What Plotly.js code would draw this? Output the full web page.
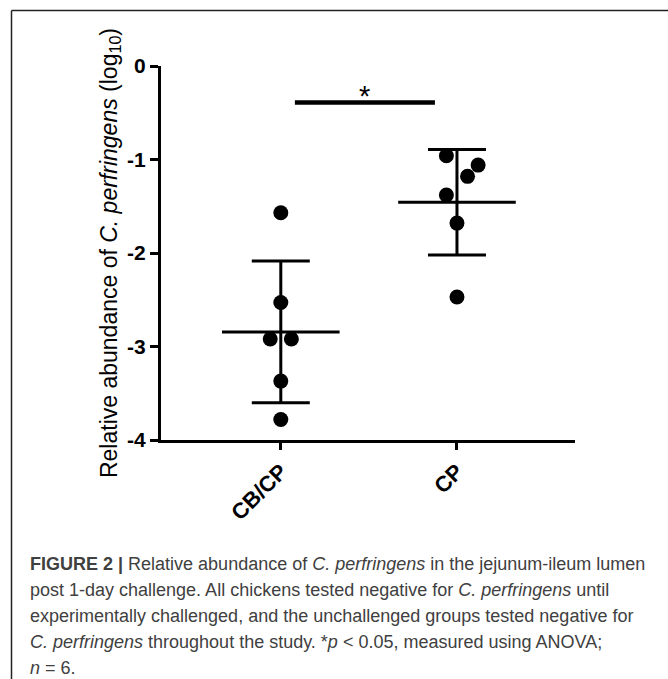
<!DOCTYPE html>
<html>
<head>
<meta charset="utf-8">
<script src="https://cdn.plot.ly/plotly-3.0.1.min.js"></script>
<style>html,body{margin:0;padding:0;background:#fff;}#chart{width:668px;height:679px;}</style>
</head>
<body>
<div id="chart"></div>
<script>
// ---- data ----
const categories = ["CB/CP", "CP"];
const categoryPos = [0, 1];
const cbcpValues = [-1.57, -2.53, -2.92, -2.92, -3.37, -3.78];
const cbcpJitter = [0, 0, -0.06, 0.06, 0, 0];
const cpValues = [-0.96, -1.06, -1.18, -1.38, -1.68, -2.47];
const cpJitter = [-0.06, 0.12, 0.06, -0.06, 0, 0];
const groupMeans = [-2.845, -1.458];
const groupUpper = [-2.085, -0.893];
const groupLower = [-3.601, -2.022];
const yTickVals = [0, -1, -2, -3, -4];
const yTickText = ["0", "-1", "-2", "-3", "-4"];
const sigX = [0.08, 0.875];
const sigY = [-0.39, -0.39];
const sigLabel = "*";
const captionLines = [
  "<b>FIGURE 2 |</b> Relative abundance of <i>C. perfringens</i> in the jejunum-ileum lumen",
  "post 1-day challenge. All chickens tested negative for <i>C. perfringens</i> until",
  "experimentally challenged, and the unchallenged groups tested negative for",
  "<i>C. perfringens</i> throughout the study. *<i>p</i> &lt; 0.05, measured using ANOVA;",
  "<i>n</i> = 6."
];

// ---- layout geometry ----
const W = 668, H = 679;
const M = {l: 161, r: 93, t: 66, b: 239};
const plotW = W - M.l - M.r, plotH = H - M.t - M.b;
const px2x = px => (px - M.l) / plotW;
const px2y = py => 1 - (py - M.t) / plotH;
const captionY = [564, 590, 616, 642, 668];

const font = "Liberation Sans, Arial, Helvetica, sans-serif";

const traces = [
  {
    type: "scatter", mode: "markers",
    x: categoryPos, y: groupMeans,
    marker: {symbol: "line-ew", size: 84, color: "#000", line: {color: "#000", width: 3}},
    error_y: {
      type: "data", symmetric: false,
      array: groupUpper.map((u, i) => u - groupMeans[i]),
      arrayminus: groupLower.map((l, i) => groupMeans[i] - l),
      color: "#000", thickness: 3, width: 29
    },
    hoverinfo: "skip", cliponaxis: false
  },
  {
    type: "scatter", mode: "markers",
    x: cbcpJitter.map(j => categoryPos[0] + j), y: cbcpValues,
    marker: {size: 15, color: "#000"}, cliponaxis: false
  },
  {
    type: "scatter", mode: "markers",
    x: cpJitter.map(j => categoryPos[1] + j), y: cpValues,
    marker: {size: 15, color: "#000"}, cliponaxis: false
  },
  {
    type: "scatter", mode: "lines",
    x: sigX, y: sigY,
    line: {color: "#000", width: 4.5}, hoverinfo: "skip"
  }
];

const annotations = captionLines.map((t, i) => ({
  text: t, xref: "paper", yref: "paper",
  x: px2x(28), y: px2y(captionY[i]), xanchor: "left", yanchor: "middle",
  showarrow: false, align: "left",
  font: {family: font, size: 18, color: "#404040"}
}));
annotations.push({
  text: sigLabel, xref: "x", yref: "y",
  x: (sigX[0] + sigX[1]) / 2, y: sigY[0], xanchor: "center", yanchor: "bottom",
  yshift: -12, showarrow: false,
  font: {family: font, size: 29, color: "#000"}
});

const shapes = [
  {type: "line", xref: "paper", yref: "paper",
   x0: px2x(11.5), x1: px2x(668), y0: px2y(10.5), y1: px2y(10.5),
   line: {color: "#222", width: 1.5}},
  {type: "line", xref: "paper", yref: "paper",
   x0: px2x(11.5), x1: px2x(11.5), y0: px2y(10.5), y1: px2y(679),
   line: {color: "#222", width: 1.5}}
];

const layout = {
  width: W, height: H,
  margin: M,
  paper_bgcolor: "#fff", plot_bgcolor: "#fff",
  showlegend: false,
  font: {family: font, color: "#000"},
  xaxis: {
    range: [-0.68, 1.67], tickvals: categoryPos, ticktext: categories,
    tickangle: -45, ticks: "outside", ticklen: 7, tickwidth: 3, tickcolor: "#000",
    showline: true, linewidth: 3, linecolor: "#000",
    showgrid: false, zeroline: false,
    tickfont: {family: font, size: 22, color: "#000", weight: 700}
  },
  yaxis: {
    range: [-4, 0], tickvals: yTickVals, ticktext: yTickText,
    ticks: "outside", ticklen: 8, tickwidth: 3, tickcolor: "#000",
    showline: true, linewidth: 3, linecolor: "#000",
    showgrid: false, zeroline: false,
    tickfont: {family: font, size: 21, color: "#000", weight: 700},
    title: {
      text: "Relative abundance of <i>C. perfringens</i> (log<sub>10</sub>)",
      font: {family: font, size: 23, color: "#000"},
      standoff: 4
    }
  },
  annotations: annotations,
  shapes: shapes
};

Plotly.newPlot("chart", traces, layout, {staticPlot: true, displayModeBar: false});
</script>
</body>
</html>
